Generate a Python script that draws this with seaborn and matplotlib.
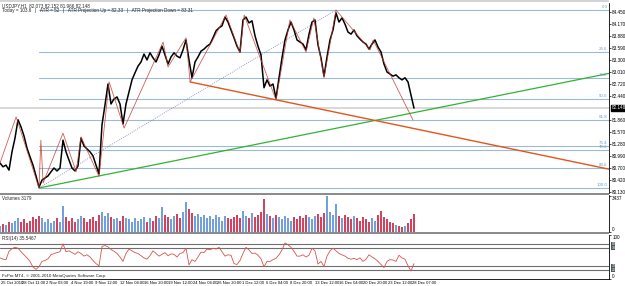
import matplotlib
matplotlib.use("Agg")
import matplotlib.pyplot as plt
import numpy as np
import pandas as pd
import seaborn as sns
from matplotlib.patches import Rectangle

sns.set_theme(style="white")
plt.rcParams['font.family'] = ['Liberation Sans Narrow', 'Liberation Sans', 'DejaVu Sans']

# ---------------- data (USDJPY H1, one sample every 8 bars) ----------------
bar_step = 8
close = [
    80.82, 80.73, 80.77, 80.65, 81.09, 81.42, 81.86, 81.69, 81.47, 81.18,
    80.97, 80.77, 80.51, 80.24, 80.41, 80.46, 80.51, 80.61, 80.70, 80.63,
    80.70, 81.37, 81.09, 80.89, 80.70, 80.63, 80.75, 81.42, 81.23, 81.16,
    81.09, 80.99, 80.77, 80.56, 81.74, 82.22, 82.72, 82.24, 82.36, 82.41,
    82.24, 81.76, 82.24, 82.53, 82.82, 82.99, 83.15, 83.25, 83.44, 83.30,
    83.47, 83.35, 83.25, 83.42, 83.63, 83.42, 83.20, 83.37, 83.47, 83.39,
    83.35, 83.54, 83.78, 83.30, 82.87, 83.25, 83.37, 83.51, 83.56, 83.63,
    83.68, 83.83, 84.00, 84.07, 84.12, 84.33, 84.21, 84.02, 83.83, 83.63,
    83.49, 84.26, 84.33, 84.19, 84.24, 83.88, 83.63, 83.42, 82.63, 82.82,
    82.67, 82.72, 82.38, 82.87, 83.35, 83.78, 84.02, 84.21, 84.02, 83.78,
    83.73, 83.68, 83.54, 83.92, 84.21, 84.26, 83.66, 83.35, 82.91, 83.37,
    83.78, 84.02, 84.43, 84.21, 84.31, 84.16, 83.97, 83.92, 84.02, 83.88,
    83.80, 83.73, 83.68, 83.56, 83.68, 83.78, 83.61, 83.49, 83.20, 83.01,
    82.96, 82.91, 82.94, 82.87, 82.82, 82.87, 82.77, 82.46, 82.14,
]
volume = [
    600, 800, 700, 1000, 900, 1100, 1300, 1000, 1200, 900,
    1100, 1400, 1200, 1500, 1300, 1000, 1200, 900, 1100, 1300,
    1000, 2500, 1400, 1100, 1300, 1000, 1200, 1500, 1300, 1000,
    1200, 1400, 1100, 1600, 1900, 1500, 1800, 1400, 1200, 1300,
    1100, 1500, 1300, 1200, 1000, 1300, 1100, 1200, 1400, 1000,
    1300, 1100, 1500, 1300, 2400, 1600, 1400, 1200, 1500, 1700,
    1300, 1900, 2850, 2200, 1800, 1500, 1700, 1400, 1600, 1300,
    1500, 1200, 1600, 1400, 1100, 1500, 1300, 1200, 1400, 1600,
    1300, 2000, 1500, 1300, 1800, 1400, 1600, 1900, 3150, 1700,
    1500, 1300, 1600, 1400, 1200, 1500, 1300, 1100, 1400, 1200,
    1500, 1300, 1600, 1400, 1200, 1500, 1700, 1400, 1800, 3400,
    1900, 1600, 2700, 1500, 1300, 1600, 1400, 1200, 1500, 1300,
    1100, 1400, 1200, 1000, 1300, 1100, 1600, 2000, 1400, 1200,
    1000, 900, 700, 600, 500, 600, 900, 1200, 1700,
]
rsi = [
    48, 45, 44, 63, 69, 72, 70, 62, 55, 48,
    40, 27, 22, 28, 40, 42, 46, 55, 58, 60,
    62, 80, 62, 64, 60, 56, 62, 58, 52, 55,
    50, 42, 35, 30, 74, 76, 73, 67, 63, 58,
    50, 40, 58, 68, 64, 60, 58, 53, 48, 45,
    53, 64, 58, 52, 56, 60, 53, 57, 56, 50,
    58, 60, 70, 32, 44, 40, 50, 61, 60, 68,
    66, 70, 68, 72, 62, 52, 55, 54, 35, 33,
    42, 58, 72, 66, 58, 59, 54, 46, 28, 40,
    40, 44, 47, 55, 66, 82, 78, 72, 63, 52,
    52, 55, 50, 54, 70, 64, 34, 40, 28, 52,
    64, 70, 64, 58, 55, 52, 47, 45, 47, 44,
    48, 40, 45, 55, 50, 46, 40, 33, 26, 40,
    44, 43, 40, 54, 48, 45, 30, 18, 35,
]
assert len(close) == len(volume) == len(rsi)

# ZigZag swing points (bar index, price)
zz_bar = [0, 43, 104, 109, 115, 168, 203, 216, 264, 291, 331, 435, 448, 496, 507,
          603, 640, 651, 736, 773, 816, 837, 864, 896, 987, 995, 1101]
zz_price = [80.82, 81.93, 80.22, 81.37, 80.34, 81.54, 80.61, 81.45, 80.50, 82.77, 81.66,
            83.73, 83.13, 83.83, 82.77, 84.38, 83.47, 84.38, 82.34, 84.26, 83.49,
            84.31, 82.87, 84.50, 83.54, 83.78, 81.86]

fib_levels = [0.0, 23.6, 38.2, 50.0, 61.8, 76.4, 78.6, 88.6, 100.0]
fib_high, fib_low = 84.50, 80.22
fib_start_bar = 104
green_bars, green_prices = [104, 264], [80.22, 80.51]
orange_bars, orange_prices = [507, 736], [82.77, 82.34]
dotted_bars, dotted_prices = [104, 896], [80.22, 84.50]
last_price = 82.148

price_ticks = [84.450, 84.170, 83.880, 83.590, 83.300, 83.010, 82.720, 82.440,
               81.860, 81.570, 81.280, 80.990, 80.700, 80.420, 80.130]
time_labels = ["28 Oct 11:00", "2 Nov 03:00", "4 Nov 19:00", "9 Nov 12:00",
               "12 Nov 04:00", "16 Nov 20:00", "19 Nov 12:00", "24 Nov 04:00",
               "26 Nov 20:00", "1 Dec 12:00", "6 Dec 04:00", "8 Dec 20:00",
               "13 Dec 12:00", "16 Dec 04:00", "20 Dec 20:00", "23 Dec 12:00",
               "28 Dec 07:00"]
first_label = "25 Oct 2010"
rsi_levels = [80, 70, 30, 20]
vol_max = 3437

# ---------------- figure ----------------
W, H = 625, 286
fig = plt.figure(figsize=(W / 100, H / 100), dpi=100)
fig.patch.set_facecolor("white")

def ax_rect(top, bottom, right=609):
    return [0, (H - bottom) / H, right / W, (bottom - top) / H]

ax = fig.add_axes(ax_rect(3, 193))
axv = fig.add_axes(ax_rect(195, 232))
axr = fig.add_axes(ax_rect(235, 279))

bars = np.arange(len(close)) * bar_step
xmax = 609 / 3 * bar_step
df = pd.DataFrame({"bar": bars, "close": close, "volume": volume, "rsi": rsi})

fs = 3.3
for a in (ax, axv, axr):
    a.set_xlim(0, xmax)
    a.set_facecolor("white")
    for s in ("left", "top", "bottom"):
        a.spines[s].set_visible(False)
    a.spines["right"].set_color("black")
    a.spines["right"].set_linewidth(0.6)
    a.yaxis.tick_right()
    a.tick_params(axis="y", labelsize=fs, length=1.5, width=0.5, pad=0.8,
                  colors="black", direction="out")
    a.set_xticks([])

# ---- price panel ----
ytop = fib_high + 7 * (fib_high - fib_low) / 178
ybot = fib_high - 183 * (fib_high - fib_low) / 178
ax.set_ylim(ybot, ytop)

fib_col = "#9bbad6"
for lv in fib_levels:
    p = fib_high - (fib_high - fib_low) * lv / 100
    ax.plot([fib_start_bar, xmax], [p, p], color=fib_col, lw=0.8, zorder=1)
    ax.text(xmax - 4, p + 0.015, f"{lv:.1f}", color="#6d9fd0", fontsize=3.2,
            ha="right", va="bottom", zorder=5)

ax.axhline(last_price, color="#d2d2d2", lw=1.2, zorder=1)

sns.lineplot(data=df, x="bar", y="close", ax=ax, color="black", lw=1.1, zorder=4)
ax.plot(zz_bar, zz_price, color="#c0392b", lw=0.6, alpha=0.8, zorder=5)

def ray(ax_, bx, py, color, **kw):
    slope = (py[1] - py[0]) / (bx[1] - bx[0])
    ax_.plot([bx[0], xmax], [py[0], py[0] + slope * (xmax - bx[0])], color=color, **kw)

ray(ax, green_bars, green_prices, "#33b233", lw=0.9, zorder=3)
ray(ax, orange_bars, orange_prices, "#e0561b", lw=1.0, zorder=3)
ax.plot(dotted_bars, dotted_prices, color="#7f7fb8", lw=0.6, ls=(0, (1, 1.5)), zorder=3)

ax.set_yticks(price_ticks)
ax.set_yticklabels([f"{t:.3f}" for t in price_ticks])
ax.set_xlabel(""); ax.set_ylabel("")
ax.text(1.004, (last_price - ybot) / (ytop - ybot), f"{last_price:.3f}",
        transform=ax.transAxes, fontsize=fs, color="white", va="center", ha="left",
        bbox=dict(boxstyle="square,pad=0.12", fc="black", ec="black"), zorder=10,
        clip_on=False)

ax.text(0.003, 0.998, "USDJPY,H1  82.073 82.152 81.966 82.148", transform=ax.transAxes,
        fontsize=3.3, va="top", ha="left")
ax.text(0.003, 0.972,
        "Today = 103.6   |   ATR = 52   |   ATR Projection Up = 82.33   |   ATR Projection Down = 83.31",
        transform=ax.transAxes, fontsize=3.3, va="top", ha="left")

# ---- volume panel ----
up = np.diff(np.r_[close[0], close]) >= 0
vcol = np.where(up, "#5a8fd8", "#cc2244")
axv.bar(df["bar"], df["volume"], width=bar_step * 0.6, color=vcol, alpha=0.85,
        linewidth=0, zorder=2)
axv.set_ylim(0, vol_max * 1.03)
axv.set_yticks([0, vol_max])
axv.set_yticklabels(["0", str(vol_max)])
vl = axv.get_yticklabels()
vl[0].set_verticalalignment("bottom")
vl[1].set_verticalalignment("top")
axv.set_xlabel(""); axv.set_ylabel("")
axv.text(0.003, 0.97, "Volumes 3179", transform=axv.transAxes, fontsize=3.3,
         va="top", ha="left")

# ---- RSI panel ----
axr.set_ylim(0, 100)
for lv in rsi_levels:
    axr.axhline(lv, color="#6e6e6e", lw=0.8, zorder=1)
sns.lineplot(data=df, x="bar", y="rsi", ax=axr, color="#d9534f", lw=0.6, zorder=3)
axr.set_yticks([0, 100])
axr.set_yticklabels(["0", "100"])
rl = axr.get_yticklabels()
rl[0].set_verticalalignment("bottom")
rl[1].set_verticalalignment("top")
for lv in rsi_levels:
    axr.text(1.004, lv / 100, str(lv), transform=axr.transAxes, fontsize=2.4,
             color="white", va="center", ha="left", clip_on=False,
             bbox=dict(boxstyle="square,pad=0.05", fc="#4a5a5a", ec="none"))
axr.text(0.003, 0.97, "RSI(14) 35.5467", transform=axr.transAxes, fontsize=3.3,
         va="top", ha="left")
axr.text(0.003, 0.02, "FxPro MT4, \u00a9 2001-2010 MetaQuotes Software Corp.",
         transform=axr.transAxes, fontsize=3.2, va="bottom", ha="left")
axr.spines["bottom"].set_visible(True)
axr.spines["bottom"].set_color("black")
axr.spines["bottom"].set_linewidth(0.6)
axr.set_xlabel(""); axr.set_ylabel("")

tick_pos = [2] + [59 + 65 * k for k in range(len(time_labels))]
axr.set_xticks(tick_pos)
axr.set_xticklabels([first_label] + time_labels, fontsize=3.0)
axr.tick_params(axis="x", length=1.5, width=0.5, pad=0.3, colors="black", direction="out")
for lab in axr.get_xticklabels():
    lab.set_horizontalalignment("left")

# separators / frame
for (y0, y1, c) in [(0, 2, "#d4d4d4"), (193, 195, "#8c8c8c"), (232, 234, "#8c8c8c")]:
    fig.add_artist(Rectangle((0, (H - y1) / H), 609 / W, (y1 - y0) / H,
                             transform=fig.transFigure, color=c, lw=0))

fig.savefig("out.png", dpi=100, facecolor="white")
